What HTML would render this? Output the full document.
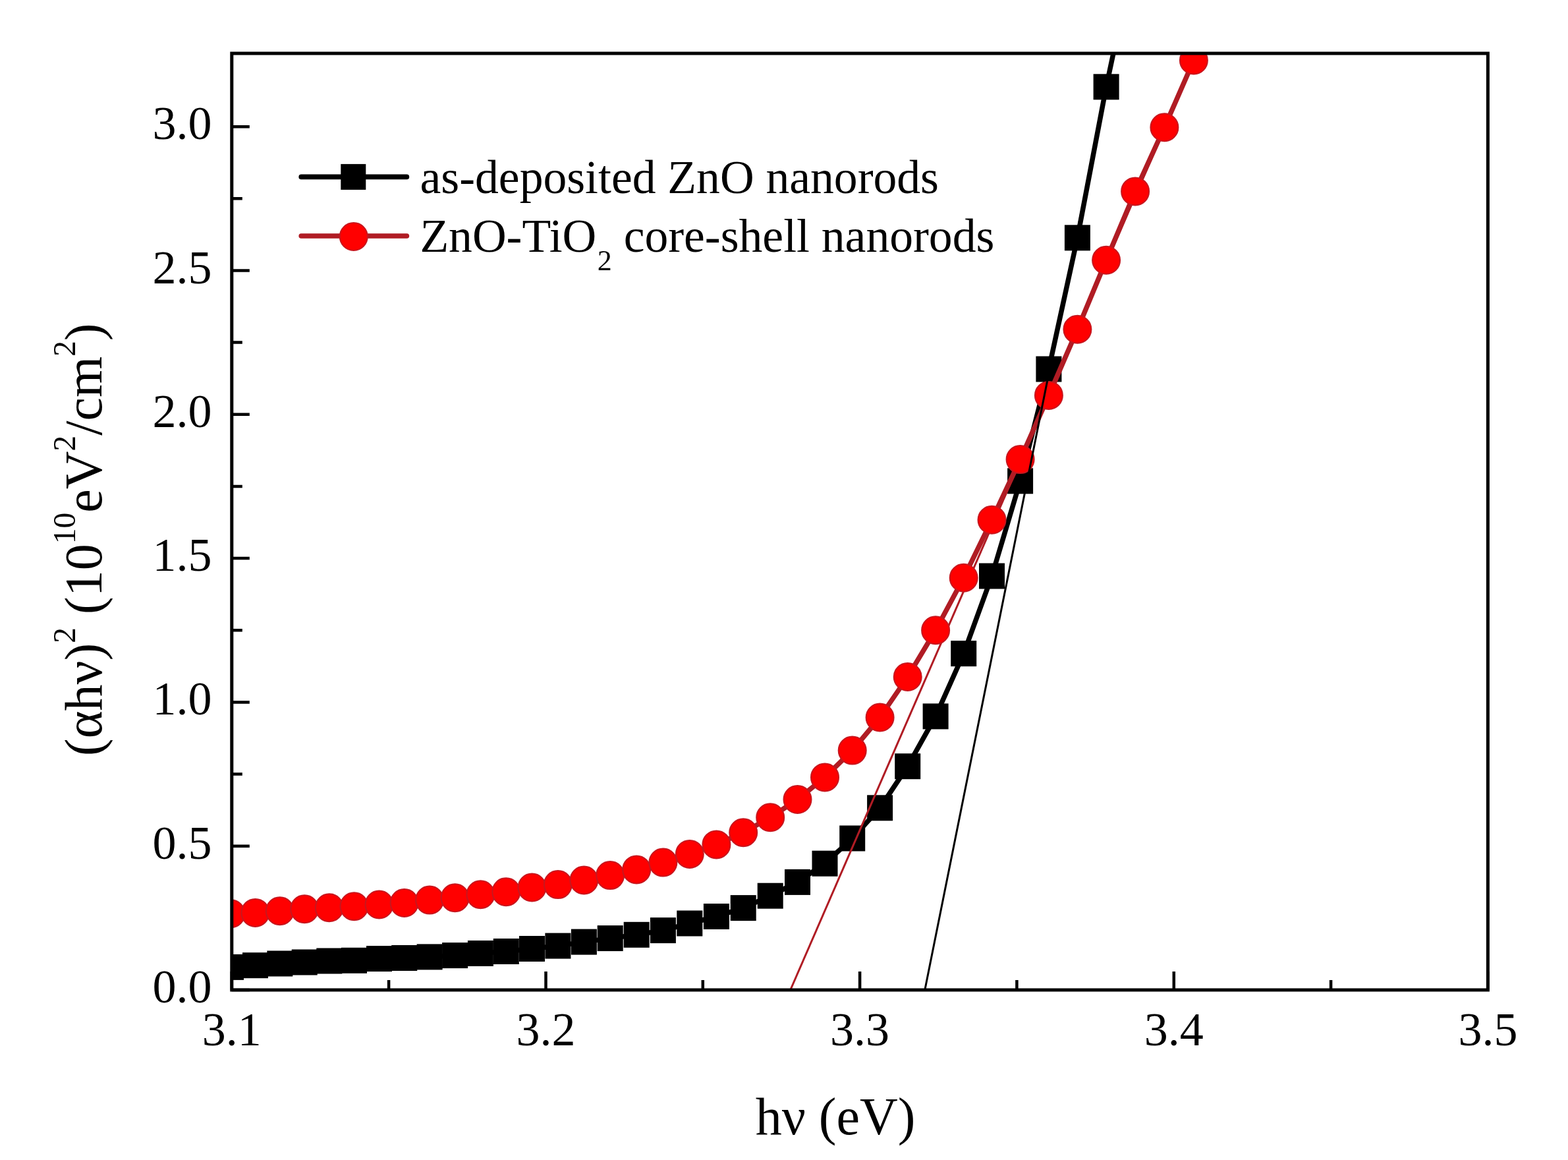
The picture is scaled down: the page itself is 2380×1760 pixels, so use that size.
<!DOCTYPE html>
<html><head><meta charset="utf-8"><title>plot</title>
<style>html,body{margin:0;padding:0;background:#fff;overflow:hidden;width:2380px;height:1760px;}svg{display:block;}</style>
</head><body>
<svg width="2380" height="1760" viewBox="0 0 2380 1760">
<rect width="2380" height="1760" fill="#fff"/>
<defs><clipPath id="pc"><rect x="351.8" y="81.0" width="1906.6" height="1421.0"/></clipPath></defs>
<path d="M351.8,1502.0h27 M351.8,1392.8h16 M351.8,1283.7h27 M351.8,1174.5h16 M351.8,1065.4h27 M351.8,956.2h16 M351.8,847.1h27 M351.8,737.9h16 M351.8,628.8h27 M351.8,519.6h16 M351.8,410.5h27 M351.8,301.3h16 M351.8,192.2h27 M351.8,1502.0v-28 M590.1,1502.0v-15 M828.5,1502.0v-28 M1066.8,1502.0v-15 M1305.1,1502.0v-28 M1543.4,1502.0v-15 M1781.8,1502.0v-28 M2020.1,1502.0v-15 M2258.4,1502.0v-28" stroke="#000" stroke-width="4.5" fill="none"/>
<g clip-path="url(#pc)">
<polyline points="350.5,1467.4 387.5,1464.7 424.8,1462.0 462.2,1460.0 499.8,1458.0 537.5,1457.3 575.5,1454.6 613.7,1453.5 652.1,1451.9 690.6,1449.6 729.4,1446.5 768.3,1443.5 807.5,1439.5 846.9,1435.1 886.4,1429.1 926.2,1423.6 966.2,1418.3 1006.4,1411.6 1046.8,1401.0 1087.4,1390.5 1128.2,1377.6 1169.2,1359.2 1210.5,1338.4 1252.0,1310.2 1293.7,1272.0 1335.6,1225.8 1377.7,1162.7 1420.1,1086.9 1462.7,991.6 1505.5,874.0 1548.6,729.8 1591.9,560.0 1635.4,360.8 1679.1,131.8 1723.1,-75.0" fill="none" stroke="#000" stroke-width="7.5" stroke-linejoin="round"/>
<g fill="#000">
<rect x="331.0" y="1447.9" width="39" height="39"/>
<rect x="368.0" y="1445.2" width="39" height="39"/>
<rect x="405.3" y="1442.5" width="39" height="39"/>
<rect x="442.7" y="1440.5" width="39" height="39"/>
<rect x="480.3" y="1438.5" width="39" height="39"/>
<rect x="518.0" y="1437.8" width="39" height="39"/>
<rect x="556.0" y="1435.1" width="39" height="39"/>
<rect x="594.2" y="1434.0" width="39" height="39"/>
<rect x="632.6" y="1432.4" width="39" height="39"/>
<rect x="671.1" y="1430.1" width="39" height="39"/>
<rect x="709.9" y="1427.0" width="39" height="39"/>
<rect x="748.8" y="1424.0" width="39" height="39"/>
<rect x="788.0" y="1420.0" width="39" height="39"/>
<rect x="827.4" y="1415.6" width="39" height="39"/>
<rect x="866.9" y="1409.6" width="39" height="39"/>
<rect x="906.7" y="1404.1" width="39" height="39"/>
<rect x="946.7" y="1398.8" width="39" height="39"/>
<rect x="986.9" y="1392.1" width="39" height="39"/>
<rect x="1027.3" y="1381.5" width="39" height="39"/>
<rect x="1067.9" y="1371.0" width="39" height="39"/>
<rect x="1108.7" y="1358.1" width="39" height="39"/>
<rect x="1149.7" y="1339.7" width="39" height="39"/>
<rect x="1191.0" y="1318.9" width="39" height="39"/>
<rect x="1232.5" y="1290.7" width="39" height="39"/>
<rect x="1274.2" y="1252.5" width="39" height="39"/>
<rect x="1316.1" y="1206.3" width="39" height="39"/>
<rect x="1358.2" y="1143.2" width="39" height="39"/>
<rect x="1400.6" y="1067.4" width="39" height="39"/>
<rect x="1443.2" y="972.1" width="39" height="39"/>
<rect x="1486.0" y="854.5" width="39" height="39"/>
<rect x="1529.1" y="710.3" width="39" height="39"/>
<rect x="1572.4" y="540.5" width="39" height="39"/>
<rect x="1615.9" y="341.3" width="39" height="39"/>
<rect x="1659.6" y="112.3" width="39" height="39"/>
</g>
<line x1="1199.7" y1="1502.0" x2="1817.4" y2="81.0" stroke="#b01c24" stroke-width="3"/>
<polyline points="350.5,1386.2 387.5,1384.9 424.8,1382.2 462.2,1379.2 499.8,1377.2 537.5,1375.2 575.5,1372.5 613.7,1370.0 652.1,1365.6 690.6,1362.2 729.4,1357.2 768.3,1353.2 807.5,1346.5 846.9,1342.1 886.4,1335.5 926.2,1328.1 966.2,1319.4 1006.4,1308.6 1046.8,1295.9 1087.4,1281.4 1128.2,1263.2 1169.2,1240.3 1210.5,1213.0 1252.0,1179.4 1293.7,1138.6 1335.6,1088.5 1377.7,1027.0 1420.1,956.2 1462.7,876.7 1505.5,788.8 1548.6,697.1 1591.9,599.9 1635.4,499.7 1679.1,394.8 1723.1,290.4 1767.4,193.3 1811.9,91.5" fill="none" stroke="#b01c24" stroke-width="7.5" stroke-linejoin="round"/>
<g fill="#ff0000" stroke="#c8161e" stroke-width="2">
<circle cx="350.5" cy="1386.2" r="21"/>
<circle cx="387.5" cy="1384.9" r="21"/>
<circle cx="424.8" cy="1382.2" r="21"/>
<circle cx="462.2" cy="1379.2" r="21"/>
<circle cx="499.8" cy="1377.2" r="21"/>
<circle cx="537.5" cy="1375.2" r="21"/>
<circle cx="575.5" cy="1372.5" r="21"/>
<circle cx="613.7" cy="1370.0" r="21"/>
<circle cx="652.1" cy="1365.6" r="21"/>
<circle cx="690.6" cy="1362.2" r="21"/>
<circle cx="729.4" cy="1357.2" r="21"/>
<circle cx="768.3" cy="1353.2" r="21"/>
<circle cx="807.5" cy="1346.5" r="21"/>
<circle cx="846.9" cy="1342.1" r="21"/>
<circle cx="886.4" cy="1335.5" r="21"/>
<circle cx="926.2" cy="1328.1" r="21"/>
<circle cx="966.2" cy="1319.4" r="21"/>
<circle cx="1006.4" cy="1308.6" r="21"/>
<circle cx="1046.8" cy="1295.9" r="21"/>
<circle cx="1087.4" cy="1281.4" r="21"/>
<circle cx="1128.2" cy="1263.2" r="21"/>
<circle cx="1169.2" cy="1240.3" r="21"/>
<circle cx="1210.5" cy="1213.0" r="21"/>
<circle cx="1252.0" cy="1179.4" r="21"/>
<circle cx="1293.7" cy="1138.6" r="21"/>
<circle cx="1335.6" cy="1088.5" r="21"/>
<circle cx="1377.7" cy="1027.0" r="21"/>
<circle cx="1420.1" cy="956.2" r="21"/>
<circle cx="1462.7" cy="876.7" r="21"/>
<circle cx="1505.5" cy="788.8" r="21"/>
<circle cx="1548.6" cy="697.1" r="21"/>
<circle cx="1591.9" cy="599.9" r="21"/>
<circle cx="1635.4" cy="499.7" r="21"/>
<circle cx="1679.1" cy="394.8" r="21"/>
<circle cx="1723.1" cy="290.4" r="21"/>
<circle cx="1767.4" cy="193.3" r="21"/>
<circle cx="1811.9" cy="91.5" r="21"/>
</g>
<line x1="1403.8" y1="1502.0" x2="1689.6" y2="81.0" stroke="#000" stroke-width="3"/>
</g>
<rect x="351.8" y="81.0" width="1906.6" height="1421.0" fill="none" stroke="#000" stroke-width="5"/>
<g font-family="&apos;Liberation Serif&apos;, &apos;Times New Roman&apos;, serif" font-size="72" fill="#000">
<text x="321.5" y="1521.0" text-anchor="end">0.0</text>
<text x="321.5" y="1302.7" text-anchor="end">0.5</text>
<text x="321.5" y="1084.4" text-anchor="end">1.0</text>
<text x="321.5" y="866.1" text-anchor="end">1.5</text>
<text x="321.5" y="647.8" text-anchor="end">2.0</text>
<text x="321.5" y="429.5" text-anchor="end">2.5</text>
<text x="321.5" y="211.2" text-anchor="end">3.0</text>
<text x="351.8" y="1585.5" text-anchor="middle">3.1</text>
<text x="828.5" y="1585.5" text-anchor="middle">3.2</text>
<text x="1305.1" y="1585.5" text-anchor="middle">3.3</text>
<text x="1781.8" y="1585.5" text-anchor="middle">3.4</text>
<text x="2258.4" y="1585.5" text-anchor="middle">3.5</text>
</g>
<text font-family="&apos;Liberation Serif&apos;, &apos;Times New Roman&apos;, serif" font-size="80" x="1268" y="1721" text-anchor="middle">hν (eV)</text>
<text font-family="&apos;Liberation Serif&apos;, &apos;Times New Roman&apos;, serif" font-size="80" transform="translate(154,1147) rotate(-90)" x="0" y="0">(αhν)<tspan dy="-40" font-size="47.5">2</tspan><tspan dy="40"> (10</tspan><tspan dy="-40" font-size="47.5">10</tspan><tspan dy="40">eV</tspan><tspan dy="-40" font-size="47.5">2</tspan><tspan dy="40">/cm</tspan><tspan dy="-40" font-size="47.5">2</tspan><tspan dy="40">)</tspan></text>
<line x1="457.2" y1="268.4" x2="617.4" y2="268.4" stroke="#000" stroke-width="7.6" stroke-linecap="round"/>
<rect x="517.3" y="248.9" width="38" height="39" fill="#000"/>
<line x1="457.2" y1="358" x2="617.4" y2="358" stroke="#b01c24" stroke-width="7.6" stroke-linecap="round"/>
<circle cx="536.8" cy="359" r="21" fill="#ff0000" stroke="#c8161e" stroke-width="2"/>
<g font-family="&apos;Liberation Serif&apos;, &apos;Times New Roman&apos;, serif" font-size="71.6" fill="#000">
<text x="637.6" y="292.6">as-deposited ZnO nanorods</text>
<text x="637.4" y="381.6">ZnO-TiO<tspan dx="1.5" dy="28.3" font-size="44">2</tspan><tspan dy="-28.3"> core-shell nanorods</tspan></text>
</g>
</svg>
</body></html>
